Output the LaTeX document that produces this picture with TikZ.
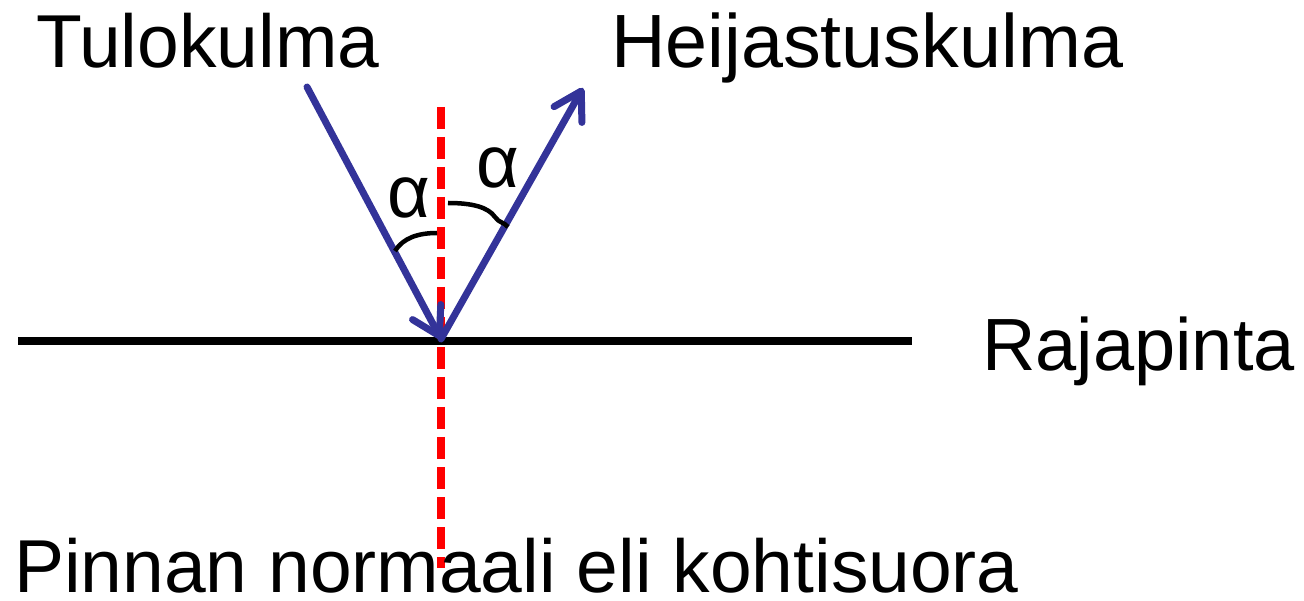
\documentclass[tikz,border=0pt]{standalone}
\usepackage{fontspec}
\setmainfont{Liberation Sans}
\usetikzlibrary{arrows.meta}
\definecolor{rayblue}{RGB}{51,51,153}
\definecolor{normred}{RGB}{255,0,0}
\begin{document}
\begin{tikzpicture}[x=1pt,y=-1pt,
  lbl/.style={inner sep=0pt,anchor=base west,font=\fontsize{75}{80}\selectfont},
  ray/.style={draw=rayblue,line width=7pt,line cap=round,line join=round,
    -{Straight Barb[length=27pt,width=32pt,line cap=round,line join=round]}},
  normal/.style={draw=normred,line width=7.5pt,dash pattern=on 22pt off 8pt},
  surface/.style={draw=black,line width=7.5pt},
  anglemark/.style={draw=black,line width=4.5pt}]
\useasboundingbox (0,0) rectangle (1304,601);
% points
\coordinate (P) at (441,339);
\coordinate (inS) at (307,87);
\coordinate (outE) at (583,88);
\coordinate (surfL) at (18,341);
\coordinate (surfR) at (912,341);
\coordinate (nTop) at (441,107);
\coordinate (nBot) at (441,568);
% surface and normal
\draw[surface] (surfL) -- (surfR);
\draw[normal] (nTop) -- (nBot);
% rays
\draw[ray] (inS) -- (P);
\draw[ray] (P) -- (outE);
% angle marks
\coordinate (a1s) at (395,251);
\coordinate (a1e) at (437,233);
\coordinate (a2s) at (448,203);
\coordinate (a2m) at (495,217);
\coordinate (a2e) at (508,227);
\draw[anglemark] (a1s) .. controls (403,238) and (418,233) .. (a1e);
\draw[anglemark] (a2s) .. controls (472,203) and (488,207) .. (a2m) .. controls (499,223) and (504,222) .. (a2e);
% labels
\node[lbl] (tulo) at (36,68) {Tulokulma};
\node[lbl,font=\fontsize{75.5}{80}\selectfont] (heij) at (611,68) {Heijastuskulma};
\node[lbl,font=\fontsize{74}{80}\selectfont] (raja) at (982,371) {Rajapinta};
\node[lbl] (pinn) at (14,592) {Pinnan normaali eli kohtisuora};
\node[lbl,font=\fontsize{74}{80}\selectfont] (alpha1) at (387,218) {α};
\node[lbl,font=\fontsize{74}{80}\selectfont] (alpha2) at (476,188) {α};
\end{tikzpicture}
\end{document}
